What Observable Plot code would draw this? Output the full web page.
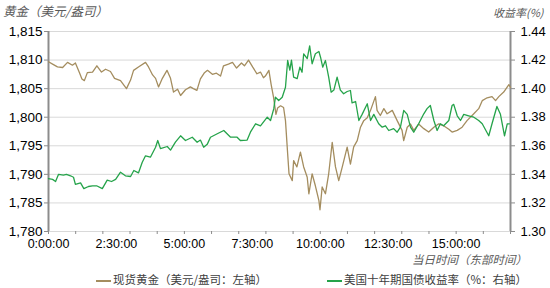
<!DOCTYPE html>
<html>
<head>
<meta charset="utf-8">
<script src="https://cdn.jsdelivr.net/npm/d3@7"></script>
<script src="https://cdn.jsdelivr.net/npm/@observablehq/plot@0.6"></script>
<style>
  html, body { margin: 0; padding: 0; background: #fff; }
  #wrap { position: relative; width: 550px; height: 288px; overflow: hidden; }
  .lbl { position: absolute; white-space: nowrap; font-family: "Noto Sans CJK SC", sans-serif; color: #595959; }
  .it { font-style: italic; font-size: 11px; }
  .leg { font-size: 11.5px; color: #404040; }
  .sw { position: absolute; height: 1.6px; width: 15px; }
</style>
</head>
<body>
<div id="wrap"></div>
<script>
// time in hours since 0:00:00 (Eastern)
const goldHours = [0,0.15,0.33,0.52,0.70,0.88,0.99,1.14,1.23,1.32,1.43,1.62,1.78,1.95,2.10,2.28,2.43,2.65,2.87,3.02,3.13,3.31,3.57,3.68,3.83,3.94,4.05,4.19,4.36,4.49,4.60,4.75,4.86,5.04,5.22,5.33,5.46,5.59,5.74,5.85,6.03,6.18,6.33,6.44,6.62,6.77,6.92,7.10,7.21,7.36,7.51,7.67,7.80,7.91,7.98,8.11,8.19,8.28,8.37,8.43,8.54,8.65,8.72,8.80,8.85,8.97,9.02,9.14,9.27,9.39,9.52,9.58,9.70,9.82,9.95,9.99,10.07,10.19,10.31,10.44,10.56,10.68,10.81,10.99,11.11,11.23,11.36,11.48,11.60,11.73,11.85,12.03,12.09,12.21,12.34,12.46,12.65,12.83,13.01,13.07,13.20,13.32,13.44,13.62,13.81,13.99,14.18,14.36,14.54,14.73,14.85,15.04,15.22,15.40,15.65,15.83,15.96,16.14,16.32,16.45,16.57,16.75,16.94,17.0];
const goldValues = [1809.7,1809.3,1808.8,1808.7,1809.6,1809.1,1809.5,1807.8,1806.7,1806.4,1807.8,1807.9,1809.0,1807.9,1808.4,1808.0,1806.8,1806.4,1805.0,1806.5,1808.2,1808.8,1809.6,1808.8,1807.4,1806.8,1805.3,1806.8,1808.2,1806.8,1804.4,1804.9,1803.8,1804.8,1805.3,1805.0,1804.7,1806.7,1807.8,1808.2,1807.5,1807.7,1807.2,1809.0,1809.3,1809.6,1808.6,1809.5,1809.0,1810.0,1808.8,1807.6,1807.9,1806.9,1807.2,1808.2,1805.8,1803.5,1800.5,1801.6,1802.0,1801.7,1799.4,1793.6,1790.1,1788.9,1792.4,1791.3,1793.9,1791.3,1789.5,1786.6,1790.1,1788.0,1785.4,1783.8,1787.8,1786.6,1790.1,1795.6,1791.3,1788.9,1791.3,1794.75,1791.8,1794.8,1795.9,1798.25,1799.4,1799.9,1801.2,1803.6,1801.2,1800.3,1801.5,1800.6,1801.2,1799.4,1797.7,1795.9,1798.25,1798.8,1797.7,1798.8,1798.0,1797.4,1798.25,1798.85,1798.5,1797.9,1797.4,1797.7,1798.25,1799.4,1800.6,1801.5,1802.9,1803.4,1803.6,1802.9,1803.6,1804.4,1805.7,1805.2];

const yieldHours = [0,0.15,0.26,0.37,0.55,0.66,0.81,0.92,0.99,1.18,1.30,1.47,1.62,1.77,1.98,2.16,2.32,2.47,2.65,2.83,3.02,3.14,3.31,3.45,3.57,3.75,3.94,4.02,4.12,4.37,4.49,4.67,4.86,5.04,5.29,5.47,5.59,5.71,5.84,5.96,6.21,6.45,6.70,6.94,7.06,7.31,7.43,7.62,7.80,8.05,8.17,8.29,8.35,8.47,8.60,8.72,8.80,8.88,8.94,9.02,9.15,9.25,9.33,9.39,9.52,9.61,9.70,9.82,9.95,10.01,10.09,10.19,10.31,10.40,10.50,10.62,10.74,10.86,10.99,11.11,11.17,11.30,11.42,11.54,11.73,11.85,11.97,12.15,12.28,12.40,12.52,12.70,12.83,12.95,13.07,13.20,13.32,13.44,13.62,13.81,13.93,14.05,14.18,14.30,14.42,14.54,14.73,14.85,14.91,15.04,15.16,15.28,15.46,15.65,15.83,15.96,16.20,16.32,16.50,16.63,16.78,16.88,16.96];
const yieldValues = [1.337,1.3365,1.335,1.340,1.3395,1.340,1.339,1.338,1.333,1.334,1.330,1.3315,1.332,1.332,1.330,1.336,1.335,1.3365,1.3415,1.339,1.3385,1.3427,1.341,1.3485,1.353,1.352,1.359,1.3637,1.358,1.3595,1.357,1.3625,1.367,1.3637,1.366,1.3625,1.364,1.359,1.361,1.366,1.3684,1.3707,1.366,1.366,1.3637,1.364,1.3695,1.3754,1.374,1.380,1.3777,1.386,1.394,1.3917,1.394,1.401,1.4197,1.413,1.420,1.408,1.407,1.415,1.4115,1.4244,1.421,1.430,1.4174,1.4244,1.426,1.422,1.415,1.4197,1.408,1.3975,1.399,1.408,1.399,1.3964,1.398,1.3987,1.390,1.391,1.3777,1.382,1.3894,1.3777,1.382,1.3754,1.373,1.374,1.3707,1.372,1.3695,1.373,1.3847,1.382,1.373,1.3695,1.3754,1.3824,1.386,1.3882,1.3777,1.3707,1.3754,1.374,1.3777,1.3882,1.389,1.381,1.3777,1.382,1.381,1.380,1.3777,1.3754,1.367,1.3754,1.3875,1.382,1.367,1.3754,1.3754];

const goldTicks = [1780,1785,1790,1795,1800,1805,1810,1815];
const yieldTicks = [1.30,1.32,1.34,1.36,1.38,1.40,1.42,1.44];
const hourTicks = d3.range(0, 18);
const labelHours = [0, 2.5, 5, 7.5, 10, 12.5, 15];

const title = "黄金（美元/盎司）";
const rightTitle = "收益率(%)";
const xTitle = "当日时间（东部时间）";
const goldName = "现货黄金（美元/盎司：左轴）";
const yieldName = "美国十年期国债收益率（%：右轴）";

const GOLD = "#a48d5f";
const GREEN = "#25a34a";
const AXIS = "#8c8c8c";

// map yield onto the gold scale for the shared y
const toGold = v => 1780 + (v - 1.30) * 250;

const gold = goldHours.map((h, i) => ({h, v: goldValues[i]}));
const yld = yieldHours.map((h, i) => ({h, v: toGold(yieldValues[i])}));

const fmtTime = h => {
  const hh = Math.floor(h), mm = Math.round((h - hh) * 60);
  return `${hh}:${String(mm).padStart(2, "0")}:00`;
};

const chart = Plot.plot({
  width: 550,
  height: 288,
  marginLeft: 48,
  marginRight: 40,
  marginTop: 31,
  marginBottom: 57,
  style: {fontFamily: "'Liberation Sans', Arial, sans-serif", background: "#fff"},
  x: {domain: [0, 17]},
  y: {domain: [1780, 1815]},
  marks: [
    Plot.ruleY(goldTicks, {stroke: "#d9d9d9", strokeWidth: 1}),
    Plot.axisX({ticks: hourTicks, tickFormat: () => "", tickSize: 3, stroke: AXIS, label: null}),
    Plot.axisX({ticks: labelHours, tickFormat: fmtTime, tickSize: 0, tickPadding: 8, fontSize: 12.5, fill: "#000", label: null}),
    Plot.axisY({anchor: "left", ticks: goldTicks, tickFormat: d3.format(","), tickSize: 4, tickPadding: 2, stroke: AXIS, fontSize: 13.5, fill: "#000", label: null}),
    Plot.axisY({anchor: "right", ticks: yieldTicks.map(toGold), tickFormat: d => ((d - 1780) / 250 + 1.30).toFixed(2), tickSize: 4, tickPadding: 6, stroke: AXIS, fontSize: 13, fill: "#000", label: null}),
    Plot.ruleX([0], {stroke: AXIS, strokeWidth: 2}),
    Plot.ruleX([17], {stroke: AXIS, strokeWidth: 2}),
    Plot.line(gold, {x: "h", y: "v", stroke: GOLD, strokeWidth: 1.3}),
    Plot.line(yld, {x: "h", y: "v", stroke: GREEN, strokeWidth: 1.3})
  ]
});

const wrap = document.getElementById("wrap");
wrap.appendChild(chart);
chart.style.position = "absolute";
chart.style.left = "0px";
chart.style.top = "0px";

function addLabel(text, cls, left, top, extra) {
  const d = document.createElement("div");
  d.className = "lbl " + cls;
  d.textContent = text;
  d.style.left = left + "px";
  d.style.top = top + "px";
  if (extra) Object.assign(d.style, extra);
  wrap.appendChild(d);
  return d;
}
addLabel(title, "it", 3, 1, {fontSize: "12.5px"});
addLabel(rightTitle, "it", 493, 4);
addLabel(xTitle, "it", 412, 251, {fontSize: "11.5px"});
addLabel(goldName, "leg", 113, 271);
addLabel(yieldName, "leg", 344, 271);
function swatch(left, color) {
  const s = document.createElement("div");
  s.className = "sw";
  s.style.left = left + "px";
  s.style.top = "280px";
  s.style.background = color;
  wrap.appendChild(s);
}
swatch(96, GOLD);
swatch(327, GREEN);
</script>
</body>
</html>
